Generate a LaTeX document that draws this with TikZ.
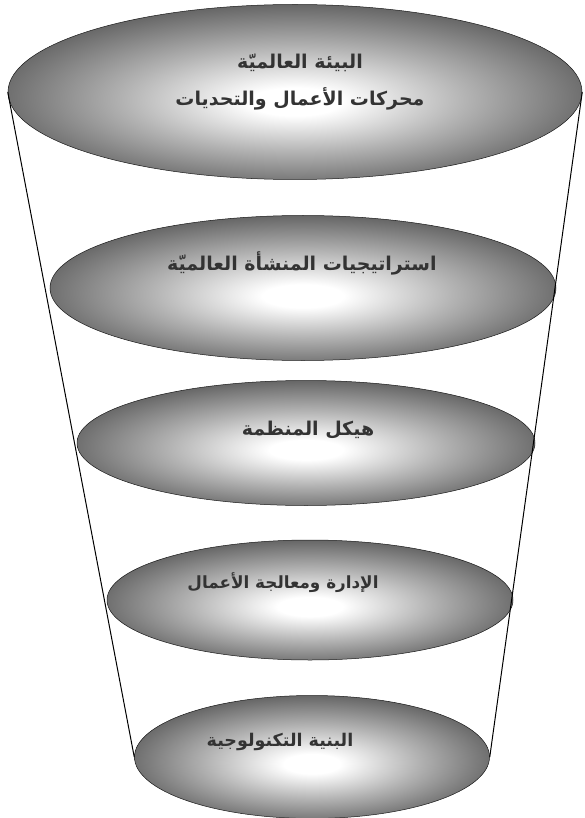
\documentclass[tikz,border=0pt]{standalone}
\usepackage{fontspec}
\usetikzlibrary{shapes.geometric}
\newfontfamily\arabicfont[Script=Arabic]{DejaVu Sans}
\TeXXeTstate=1
\pgfdeclareradialshading{disc}{\pgfpoint{0bp}{-3bp}}{color(0bp)=(white); color(4bp)=(white); color(15bp)=(black!30); color(28bp)=(black!64); color(40bp)=(black!80); color(50bp)=(black!90)}

\begin{document}
\begin{tikzpicture}[x=1pt, y=-1pt,
		layer/.style={ellipse, shading=disc, draw=black!90, line width=0.5pt, inner sep=0pt},
		layertext/.style={font=\arabicfont\bfseries\fontsize{19}{37}\selectfont, text=black!80, align=center}]
	
	\useasboundingbox (0,0) rectangle (585,818);
	
	\node[layer, minimum width=574, minimum height=175] (global) at (295,92) {};
	\node[layer, minimum width=506, minimum height=145] (strategy) at (303,288) {};
	\node[layer, minimum width=458, minimum height=125] (structure) at (306,443) {};
	\node[layer, minimum width=406, minimum height=120] (process) at (310,600) {};
	\node[layer, minimum width=355, minimum height=123] (infra) at (312,757) {};
	
	\node[layertext] (globaltext) at (300,82) {\beginR البيئة العالميّة\endR\\ \beginR محركات الأعمال والتحديات\endR};
	\node[layertext] (strategytext) at (302,263) {\beginR استراتيجيات المنشأة العالميّة\endR};
	\node[layertext] (structuretext) at (308,430) {\beginR هيكل المنظمة\endR};
	\node[layertext, font=\arabicfont\bfseries\fontsize{16.8}{20}\selectfont] (processtext) at (283,583) {\beginR الإدارة ومعالجة الأعمال\endR};
	\node[layertext, font=\arabicfont\bfseries\fontsize{17.5}{20}\selectfont] (infratext) at (280,742) {\beginR البنية التكنولوجية\endR};
	
	\draw[line width=1pt] (global.west) -- (infra.west);
	\draw[line width=1pt] (global.east) -- (infra.east);
	
\end{tikzpicture}
\end{document}
